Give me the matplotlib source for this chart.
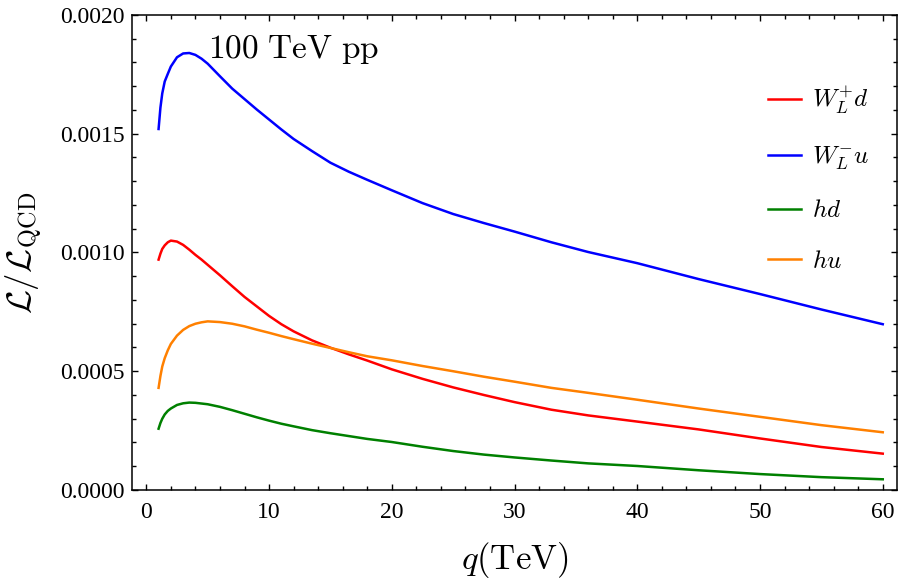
import matplotlib
matplotlib.use("Agg")
import matplotlib.pyplot as plt
from matplotlib.ticker import MultipleLocator, FormatStrFormatter

q = [1, 1.15, 1.3, 1.5, 1.75, 2, 2.5, 3, 3.5, 4, 4.5, 5, 6, 7, 8, 9, 10, 11, 12,
     13.5, 15, 16.5, 18, 20, 22.5, 25, 27.5, 30, 33, 36, 40, 45, 50, 55, 60]

wp_d = [0.00097, 0.000995, 0.001015, 0.00103, 0.001043, 0.00105, 0.001046, 0.001032,
        0.001012, 0.00099, 0.00097, 0.000948, 0.000904, 0.000858, 0.000813, 0.000773,
        0.000733, 0.000698, 0.000668, 0.00063, 0.000599, 0.000571, 0.000545, 0.000508,
        0.000468, 0.000432, 0.0004, 0.00037, 0.000338, 0.000314, 0.000288, 0.000255,
        0.000217, 0.000181, 0.000153]

wm_u = [0.00152, 0.00161, 0.00167, 0.00172, 0.001752, 0.001783, 0.001822, 0.001838,
        0.00184, 0.001832, 0.001816, 0.001795, 0.001742, 0.00169, 0.001646, 0.001602,
        0.00156, 0.001518, 0.001478, 0.001427, 0.001378, 0.00134, 0.001306, 0.001262,
        0.001208, 0.001162, 0.001124, 0.001088, 0.001043, 0.001002, 0.000955, 0.000888,
        0.000825, 0.00076, 0.000698]

h_d = [0.000258, 0.000282, 0.0003, 0.000318, 0.000333, 0.000343, 0.000358, 0.000365,
       0.000368, 0.000367, 0.000364, 0.000361, 0.00035, 0.000336, 0.000321, 0.000306,
       0.000292, 0.000279, 0.000268, 0.000252, 0.000239, 0.000227, 0.000215, 0.000202,
       0.000182, 0.000164, 0.000149, 0.000137, 0.000124, 0.000112, 0.000101, 0.000083,
       0.000067, 0.000054, 0.000045]

h_u = [0.00043, 0.00048, 0.00052, 0.000555, 0.000588, 0.000615, 0.00065, 0.000674,
       0.00069, 0.0007, 0.000706, 0.00071, 0.000707, 0.0007, 0.000689, 0.000675,
       0.000662, 0.000648, 0.000635, 0.000616, 0.000598, 0.00058, 0.000563, 0.000546,
       0.000522, 0.0005, 0.000477, 0.000456, 0.00043, 0.000409, 0.00038, 0.000343,
       0.000308, 0.000273, 0.000243]

labels = [r"$W_L^{+}d$", r"$W_L^{-}u$", r"$hd$", r"$hu$"]
colors = ["#ff0000", "#0000ff", "#008000", "#ff8000"]

plt.rcParams["mathtext.fontset"] = "cm"
plt.rcParams["font.family"] = ["Liberation Serif", "DejaVu Serif"]

fig = plt.figure(figsize=(9, 5.88), dpi=100)
ax = fig.add_axes([0.1462, 0.1667, 0.8510, 0.8078])

for ys, lab, c in zip([wp_d, wm_u, h_d, h_u], labels, colors):
    ax.plot(q, ys, color=c, lw=1.8, label=lab, solid_joinstyle="round")

ax.set_xlim(-1.2, 61.2)
ax.set_ylim(0, 0.002)
ax.xaxis.set_major_locator(MultipleLocator(10))
ax.xaxis.set_minor_locator(MultipleLocator(2))
ax.yaxis.set_major_locator(MultipleLocator(0.0005))
ax.yaxis.set_minor_locator(MultipleLocator(0.0001))
ax.yaxis.set_major_formatter(FormatStrFormatter("%.4f"))
ax.tick_params(which="both", direction="in", top=True, right=True, width=1.0)
ax.tick_params(which="major", length=4.5, labelsize=17)
ax.tick_params(which="minor", length=2.8)
ax.tick_params(axis="x", pad=9)
ax.tick_params(axis="y", pad=5)
for s in ax.spines.values():
    s.set_linewidth(1.1)

ax.set_xlabel(r"$q(\mathrm{TeV})$", fontsize=25, labelpad=12)
ax.set_ylabel(r"$\mathcal{L}/\mathcal{L}_{\mathrm{QCD}}$", fontsize=25, labelpad=11)

ax.text(5.0, 0.00182, r"$\mathrm{100\ TeV\ pp}$", fontsize=24, va="baseline", ha="left")

ax.legend(loc="upper left", bbox_to_anchor=(0.831, 0.852), frameon=False,
          fontsize=18, handlelength=1.3, handletextpad=0.45, labelspacing=1.12,
          borderpad=0, borderaxespad=0)

fig.savefig("out.png", dpi=100)
